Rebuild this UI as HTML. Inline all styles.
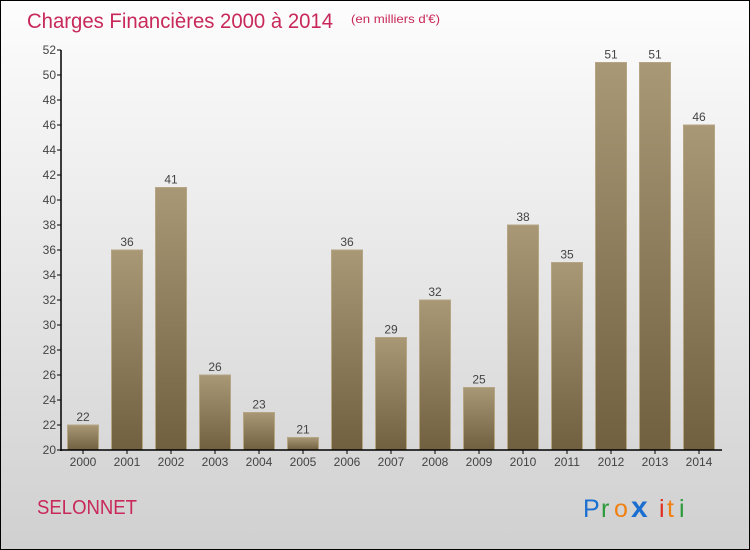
<!DOCTYPE html>
<html><head><meta charset="utf-8"><style>
body{margin:0}
#c{width:750px;height:550px;position:relative;box-sizing:border-box;border:1px solid #000;background:linear-gradient(#fdfdfd,#d0d0d0);font-family:"Liberation Sans",sans-serif;overflow:hidden}
</style></head><body>
<div id="c">
<svg width="750" height="550" style="position:absolute;left:-1px;top:-1px">
<defs><linearGradient id="bg" x1="0" y1="0" x2="0" y2="1"><stop offset="0" stop-color="#a99876"/><stop offset="1" stop-color="#716040"/></linearGradient></defs>
<text x="27" y="28" font-size="21" fill="#c8285a" textLength="306" lengthAdjust="spacingAndGlyphs">Charges Financières 2000 à 2014</text>
<text x="351" y="23" font-size="12" fill="#c8285a" textLength="89" lengthAdjust="spacingAndGlyphs">(en milliers d'€)</text>
<text x="37" y="514" font-size="20" fill="#c8285a" textLength="100" lengthAdjust="spacingAndGlyphs">SELONNET</text>
<g font-size="25">
<text x="583" y="517" fill="#1a6fd0">P</text><text x="601" y="517" fill="#2a9a3a">r</text><text x="614" y="517" fill="#f08010">o</text><text x="631" y="517" fill="#1a6fd0" font-weight="bold" font-size="30">x</text><text x="659" y="517" fill="#e03020">i</text><text x="667" y="517" fill="#f08010">t</text><text x="679" y="517" fill="#2a9a3a">i</text>
</g>
<g id="plot"></g>
</svg>
</div>
<script>
const categories=["2000","2001","2002","2003","2004","2005","2006","2007","2008","2009","2010","2011","2012","2013","2014"];
const values=[22,36,41,26,23,21,36,29,32,25,38,35,51,51,46];
const yTicks=[20,22,24,26,28,30,32,34,36,38,40,42,44,46,48,50,52];
const x0=61,bw=44,yMin=20,yMax=52,yTop=50,yBot=450;
function y(v){return yBot-(v-yMin)/(yMax-yMin)*(yBot-yTop);}
function xc(i){return x0+bw*i+bw/2;}
const g=document.getElementById('plot');const NS="http://www.w3.org/2000/svg";
function mk(t,a){const e=document.createElementNS(NS,t);for(const k in a)e.setAttribute(k,a[k]);g.appendChild(e);return e;}
values.forEach((v,i)=>{
 const r=mk('rect',{x:xc(i)-15.5,y:y(v),width:31,height:yBot-y(v),fill:'url(#bg)',stroke:'#b5a585','stroke-width':1});
 
 
 const t=mk('text',{x:xc(i),y:y(v)-4,'text-anchor':'middle','font-size':12,fill:'#444'});t.textContent=v;
 
 
 const l=mk('text',{x:xc(i),y:466,'text-anchor':'middle','font-size':12,fill:'#444'});l.textContent=categories[i];
 
 
 const tk=mk('line',{x1:xc(i),x2:xc(i),y1:yBot,y2:yBot+4,stroke:'#000'});
 
 
});
yTicks.forEach(v=>{
 const l=mk('line',{x1:57,x2:61,y1:y(v),y2:y(v),stroke:'#000'});
 
 
 const t=mk('text',{x:56,y:y(v)+4,'text-anchor':'end','font-size':12,fill:'#444'});t.textContent=v;
 
 
});
const ya=mk('line',{x1:61,x2:61,y1:yTop,y2:yBot+1,stroke:'#000','stroke-width':1.5});


const xa=mk('line',{x1:60,x2:722,y1:yBot,y2:yBot,stroke:'#000','stroke-width':1.5});


</script>
</body></html>
